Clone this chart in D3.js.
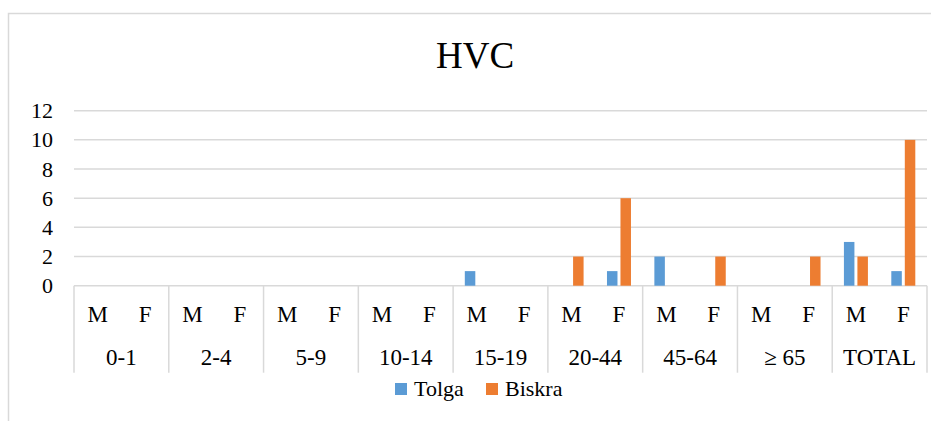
<!DOCTYPE html>
<html>
<head>
<meta charset="utf-8">
<script src="https://cdn.jsdelivr.net/npm/d3@7"></script>
<style>
	body { margin: 0; background: #ffffff; }
	text { font-family: "Times New Roman", "Liberation Serif", serif; fill: #000000; }
</style>
</head>
<body>
<div id="chart"></div>
<script>
	var w = 931;
	var h = 421;

	var groups = ["0-1", "2-4", "5-9", "10-14", "15-19", "20-44", "45-64", "\u2265 65", "TOTAL"];
	var sexes = ["M", "F"];
	var series = ["Tolga", "Biskra"];
	var colors = ["#5b9bd5", "#ed7d31"];
	// values per group: [M, F]
	var tolga = [[0, 0], [0, 0], [0, 0], [0, 0], [1, 0], [0, 1], [2, 0], [0, 0], [3, 1]];
	var biskra = [[0, 0], [0, 0], [0, 0], [0, 0], [0, 0], [2, 6], [0, 2], [0, 2], [2, 10]];
	var yTicks = [0, 2, 4, 6, 8, 10, 12];

	var plotLeft = 74, plotRight = 927, plotTop = 110.7, plotBottom = 285.7;
	var labelBottom = 372.7;

	var svg = d3.select("#chart").append("svg")
		.attr("width", w)
		.attr("height", h);

	// chart area border
	svg.append("rect")
		.attr("x", 8.5)
		.attr("y", 13.5)
		.attr("width", 940)
		.attr("height", 430)
		.attr("fill", "none")
		.attr("stroke", "#d9d9d9")
		.attr("stroke-width", 1.5);

	var y = d3.scaleLinear().domain([0, 12]).range([plotBottom, plotTop]);
	var xGroup = d3.scaleBand().domain(groups).range([plotLeft, plotRight]);
	var xSex = d3.scaleBand().domain(sexes).range([0, xGroup.bandwidth()]);
	var xSeries = d3.scaleBand().domain(series).range([0, xSex.bandwidth()])
		.paddingInner(0.222).paddingOuter(0.867);
	var color = d3.scaleOrdinal().domain(series).range(colors);

	// gridlines
	svg.selectAll("line.grid")
		.data(yTicks)
		.enter()
		.append("line")
		.attr("class", "grid")
		.attr("x1", plotLeft)
		.attr("x2", plotRight)
		.attr("y1", function(d) { return y(d); })
		.attr("y2", function(d) { return y(d); })
		.attr("stroke", "#d9d9d9")
		.attr("stroke-width", 1.5);

	svg.selectAll("text.ytick")
		.data(yTicks)
		.enter()
		.append("text")
		.attr("class", "ytick")
		.text(function(d) { return d; })
		.attr("x", 53)
		.attr("y", function(d) { return y(d); })
		.attr("dy", "0.34em")
		.attr("text-anchor", "end")
		.attr("font-size", 22);

	// bars
	var rows = [];
	groups.forEach(function(g, gi) {
		sexes.forEach(function(s, si) {
			rows.push({ group: g, sex: s, series: "Tolga", value: tolga[gi][si] });
			rows.push({ group: g, sex: s, series: "Biskra", value: biskra[gi][si] });
		});
	});

	svg.selectAll("rect.bar")
		.data(rows.filter(function(d) { return d.value > 0; }))
		.enter()
		.append("rect")
		.attr("class", "bar")
		.attr("x", function(d) { return xGroup(d.group) + xSex(d.sex) + xSeries(d.series); })
		.attr("y", function(d) { return y(d.value); })
		.attr("width", xSeries.bandwidth())
		.attr("height", function(d) { return y(0) - y(d.value); })
		.attr("fill", function(d) { return color(d.series); });

	// category axis dividers
	var dividers = groups.map(function(g) { return xGroup(g); }).concat([plotRight]);
	svg.selectAll("line.div")
		.data(dividers)
		.enter()
		.append("line")
		.attr("class", "div")
		.attr("x1", function(d) { return d; })
		.attr("x2", function(d) { return d; })
		.attr("y1", plotBottom)
		.attr("y2", labelBottom)
		.attr("stroke", "#d9d9d9")
		.attr("stroke-width", 1.5);

	var sexLabels = [];
	groups.forEach(function(g) {
		sexes.forEach(function(s) { sexLabels.push({ group: g, sex: s }); });
	});

	svg.selectAll("text.sex")
		.data(sexLabels)
		.enter()
		.append("text")
		.attr("class", "sex")
		.text(function(d) { return d.sex; })
		.attr("x", function(d) { return xGroup(d.group) + xSex(d.sex) + xSex.bandwidth() / 2; })
		.attr("y", 322)
		.attr("text-anchor", "middle")
		.attr("font-size", 23);

	svg.selectAll("text.group")
		.data(groups)
		.enter()
		.append("text")
		.attr("class", "group")
		.text(function(d) { return d; })
		.attr("x", function(d) { return xGroup(d) + xGroup.bandwidth() / 2; })
		.attr("y", 365)
		.attr("text-anchor", "middle")
		.attr("font-size", 23);

	// title
	svg.append("text")
		.text("HVC")
		.attr("x", 475)
		.attr("y", 68)
		.attr("text-anchor", "middle")
		.attr("font-size", 37);

	// legend
	var legendX = [395, 486];
	var legend = svg.selectAll("g.legend")
		.data(series)
		.enter()
		.append("g")
		.attr("class", "legend")
		.attr("transform", function(d, i) { return "translate(" + legendX[i] + ",383)"; });

	legend.append("rect")
		.attr("width", 12)
		.attr("height", 12)
		.attr("fill", function(d) { return color(d); });

	legend.append("text")
		.text(function(d) { return d; })
		.attr("x", 19)
		.attr("y", 13)
		.attr("font-size", 22);
</script>
</body>
</html>
